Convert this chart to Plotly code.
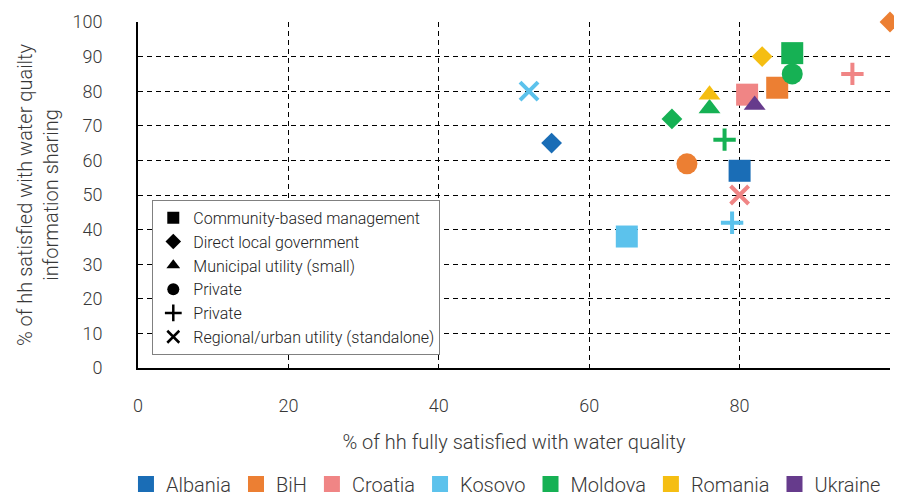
import plotly.graph_objects as go

# ---- data ----
countries = ["Albania", "BiH", "Croatia", "Kosovo", "Moldova", "Romania", "Ukraine"]
country_colors = ["#1A6DB6", "#EC7F33", "#F08585", "#5CC2EC", "#16B154", "#F5BE12", "#663B8C"]

mgmt_types = ["Community-based management", "Direct local government",
              "Municipal utility (small)", "Private", "Private",
              "Regional/urban utility (standalone)"]
type_symbols = ["square", "diamond", "triangle-up", "circle", "cross-thin", "x-thin"]
type_sizes = [22, 16, 19, 21, 16, 18]

point_country = ["Albania", "Albania",
                 "BiH", "BiH", "BiH",
                 "Croatia", "Croatia", "Croatia",
                 "Kosovo", "Kosovo", "Kosovo",
                 "Moldova", "Moldova", "Moldova", "Moldova", "Moldova",
                 "Romania", "Romania",
                 "Ukraine"]
point_type = [1, 0,
              1, 0, 3,
              0, 4, 5,
              5, 0, 4,
              0, 3, 1, 2, 4,
              2, 1,
              2]
quality_x = [55, 80,
             100, 85, 73,
             81, 95, 80,
             52, 65, 79,
             87, 87, 71, 76, 78,
             76, 83,
             82]
info_y = [65, 57,
          100, 81, 59,
          79, 85, 50,
          80, 38, 42,
          91, 85, 72, 75, 66,
          79, 90,
          76]

x_ticks = [0, 20, 40, 60, 80, 100]
y_ticks = [0, 10, 20, 30, 40, 50, 60, 70, 80, 90, 100]

FONT = "Roboto"
TXT = "#383838"

fig = go.Figure()

# data points
for c, col in zip(countries, country_colors):
    for t in range(len(type_symbols)):
        xs = [x for x, pc, pt in zip(quality_x, point_country, point_type) if pc == c and pt == t]
        ys = [y for y, pc, pt in zip(info_y, point_country, point_type) if pc == c and pt == t]
        if not xs:
            continue
        thin = type_symbols[t].endswith("-thin")
        fig.add_trace(go.Scatter(
            x=xs, y=ys, mode="markers", showlegend=False, cliponaxis=False,
            marker=dict(symbol=type_symbols[t], size=type_sizes[t], color=col,
                        line=dict(color=col, width=4 if thin else 0)),
            hoverinfo="x+y", name=c))

# shape legend (black symbols)
for i, (name, sym) in enumerate(zip(mgmt_types, type_symbols)):
    thin = sym.endswith("-thin")
    fig.add_trace(go.Scatter(
        x=[None], y=[None], mode="markers", name=name, legend="legend",
        legendgroup="g%d" % i,
        marker=dict(symbol=sym, size=12, color="black",
                    line=dict(color="black", width=2.5 if thin else 0))))

# country legend
for c, col in zip(countries, country_colors):
    fig.add_trace(go.Scatter(
        x=[None], y=[None], mode="markers", name=c, legend="legend2",
        marker=dict(symbol="square", size=16, color=col)))

# page body has an 8px margin, so the figure is sized/offset to compensate
fig.update_layout(
    width=894, height=486,
    margin=dict(l=130, r=12, t=14, b=126, autoexpand=False),
    paper_bgcolor="white", plot_bgcolor="white",
    font=dict(family=FONT, size=18, color=TXT, weight=300),
    legend=dict(
        x=0.019, y=0.486, xanchor="left", yanchor="top",
        bgcolor="white", bordercolor="#808080", borderwidth=1,
        font=dict(family=FONT, size=16, color="#222222", weight=300),
        tracegroupgap=0, itemwidth=30),
    legend2=dict(
        orientation="h", x=-0.016, y=-0.335,
        xanchor="left", yanchor="middle",
        font=dict(family=FONT, size=20, color=TXT, weight=300),
        itemwidth=30),
    xaxis=dict(
        range=[0, 100], tickvals=x_ticks, ticktext=[str(v) for v in x_ticks],
        showgrid=True, gridcolor="black", griddash="5px,4px", gridwidth=1,
        showline=True, linecolor="black", linewidth=2,
        ticks="outside", ticklen=20, tickcolor="rgba(0,0,0,0)",
        zeroline=False, fixedrange=True, automargin=False,
        title=dict(text="% of hh fully satisfied with water quality",
                   font=dict(size=20, color=TXT), standoff=20)),
    yaxis=dict(
        range=[0, 100], tickvals=y_ticks, ticktext=[str(v) for v in y_ticks],
        showgrid=True, gridcolor="black", griddash="5px,4px", gridwidth=1,
        showline=True, linecolor="black", linewidth=2,
        ticks="outside", ticklen=30, tickcolor="rgba(0,0,0,0)",
        zeroline=False, fixedrange=True, automargin=False,
        title=dict(text="% of hh satisfied with water quailty<br>information sharing",
                   font=dict(size=20, color=TXT), standoff=8)),
)

fig.write_html("out.html")
